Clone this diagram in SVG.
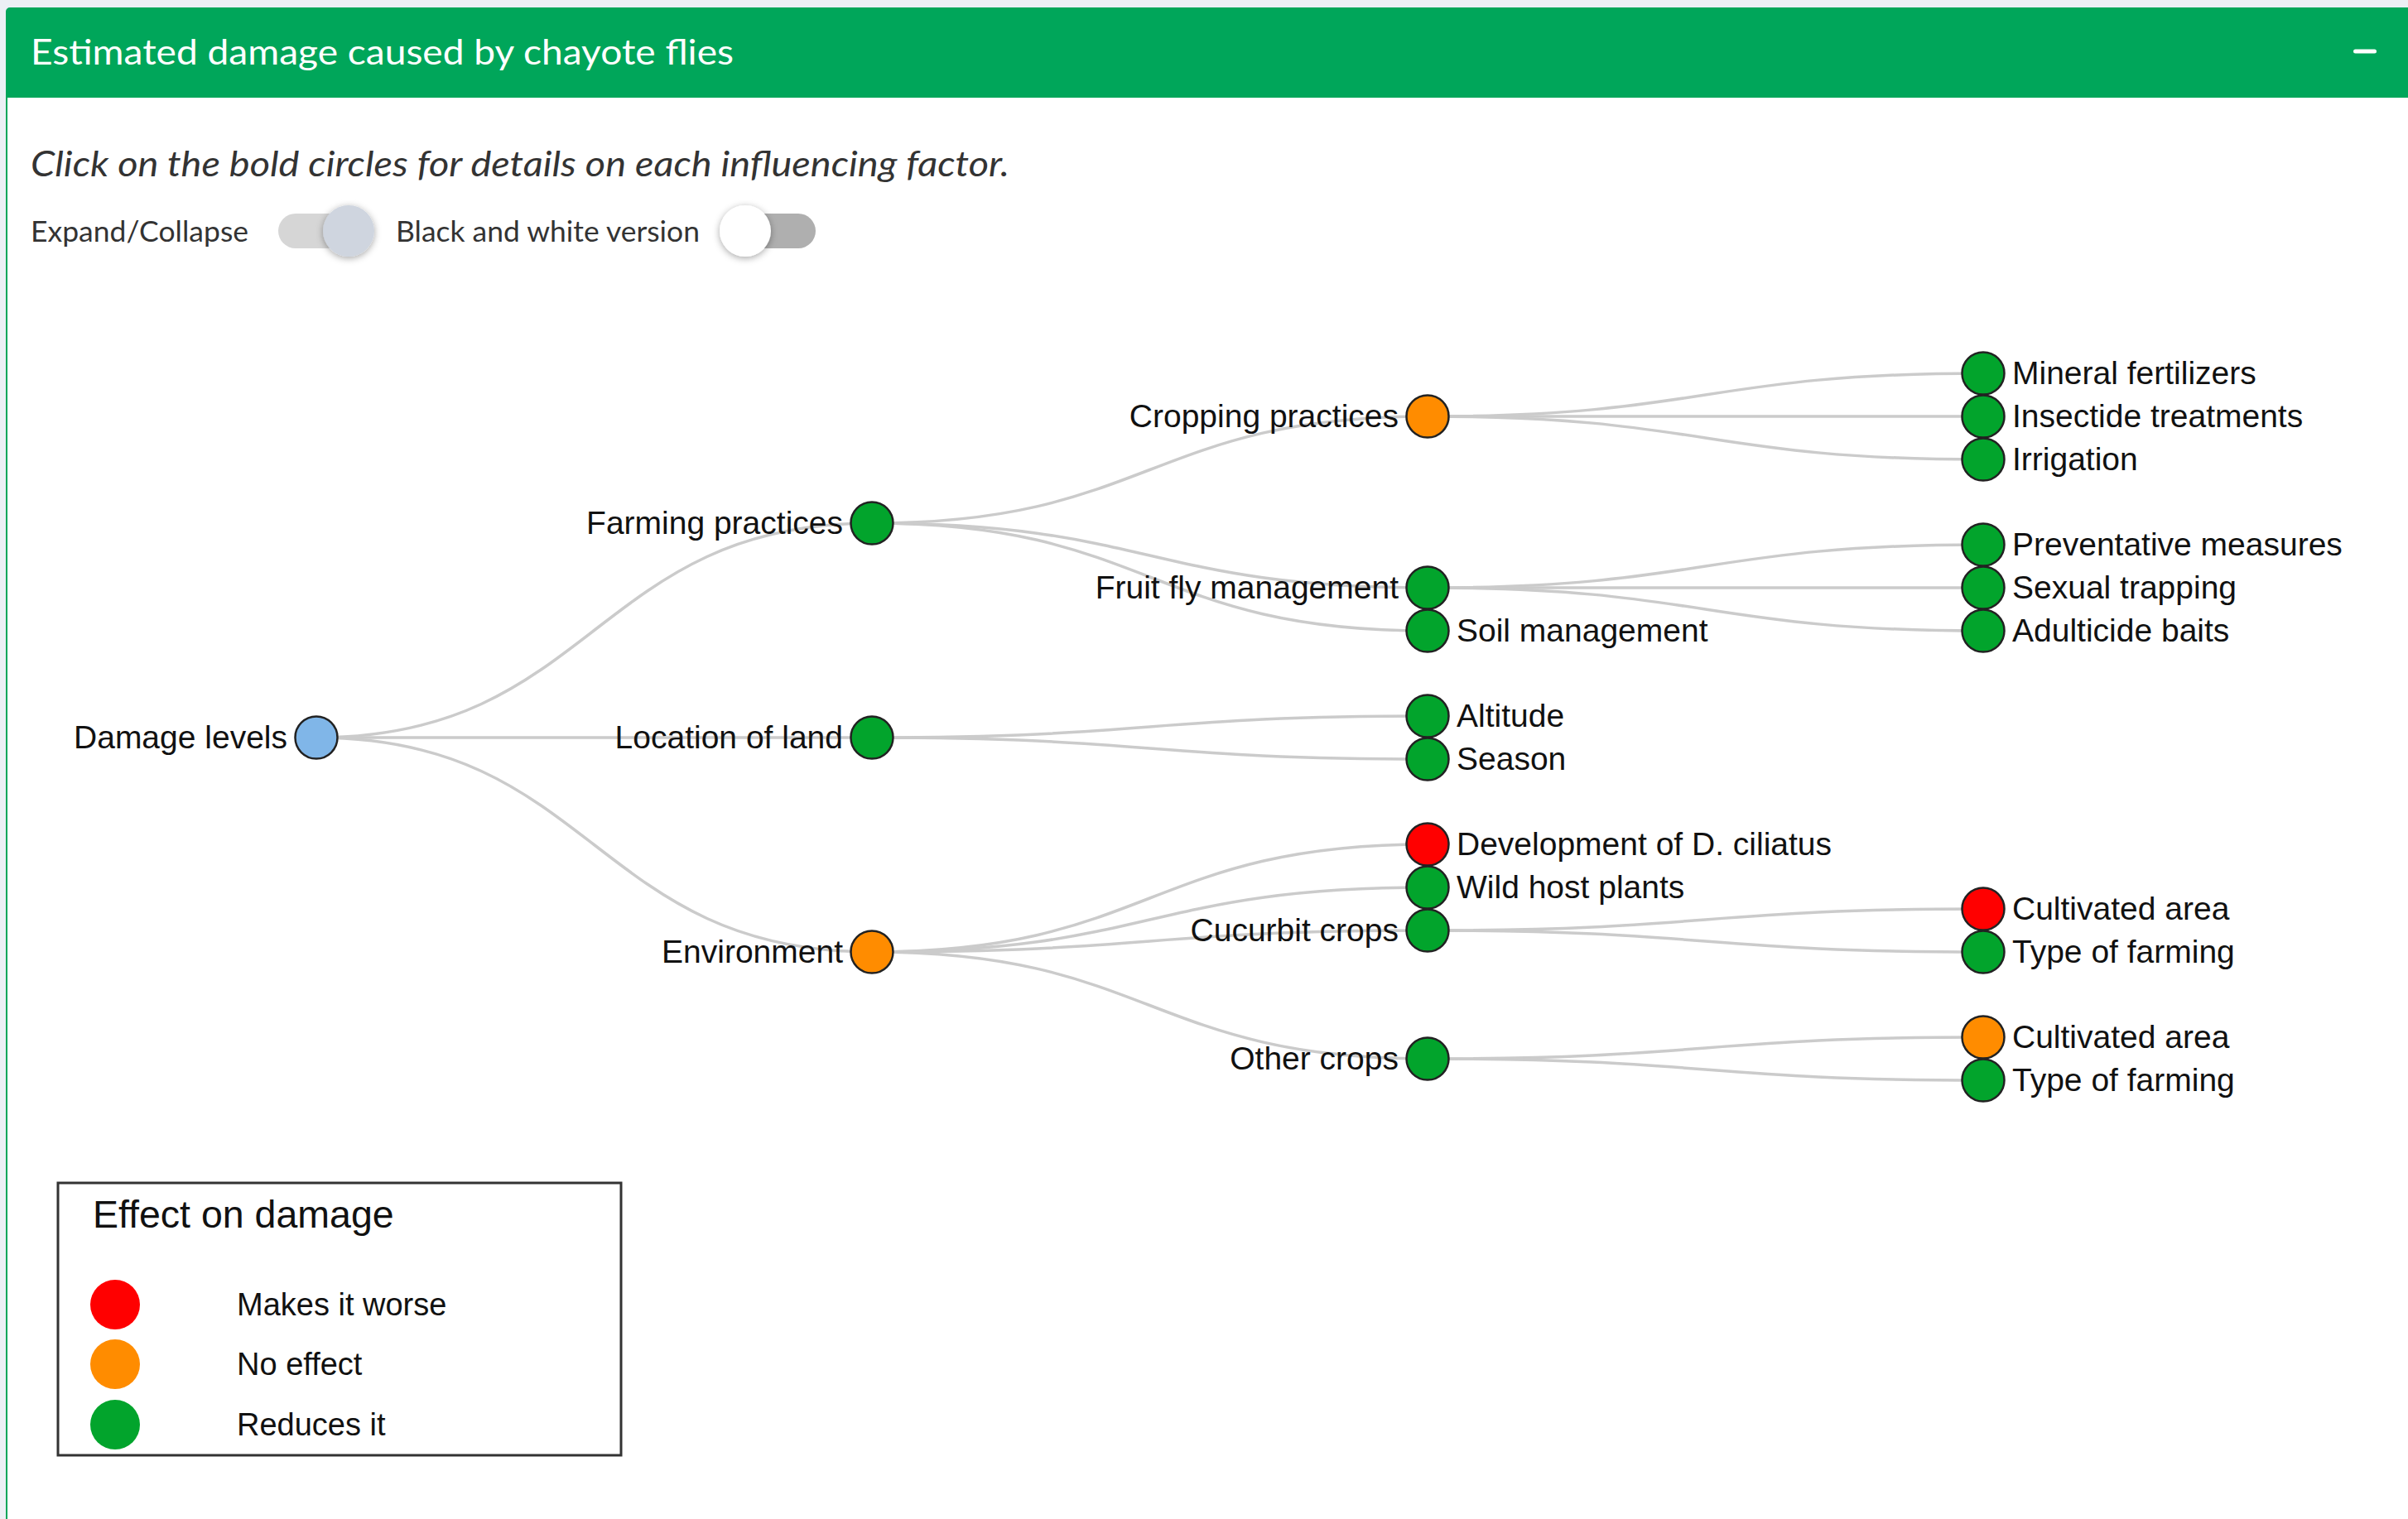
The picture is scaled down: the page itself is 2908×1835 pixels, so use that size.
<svg xmlns="http://www.w3.org/2000/svg" width="2908" height="1835" viewBox="0 0 2908 1835">
<defs>
<style>
.ui{font-family:Lato,"Open Sans","Liberation Sans",sans-serif;fill:#333}
.lbl{font-family:"Liberation Sans",Arial,sans-serif;font-size:39px;fill:#111}
.l{text-anchor:end}
.nd{stroke:#222;stroke-width:2.5}
.g{fill:#02a42c}.o{fill:#ff8c00}.r{fill:#ff0000}.b{fill:#80b6e8}
.link{fill:none;stroke:#cbcbcb;stroke-width:3.5}
.leg{font-family:"Liberation Sans",Arial,sans-serif;fill:#111}
</style>
<filter id="sh" x="-50%" y="-50%" width="200%" height="200%">
<feDropShadow dx="0" dy="2" stdDeviation="4" flood-color="#000" flood-opacity="0.35"/>
</filter>
</defs>
<rect x="0" y="0" width="2908" height="1835" fill="#ecf0f5"/>
<g id="panel">
<rect x="8" y="10" width="2910" height="1840" rx="4" fill="#ffffff" stroke="#00a65a" stroke-width="2"/>
<path d="M8,118 V14 a4,4 0 0 1 4,-4 H2908 V118 Z" fill="#00a65a"/>
<text x="37" y="78" class="ui" style="fill:#fff" font-size="42" textLength="849" lengthAdjust="spacingAndGlyphs">Estimated damage caused by chayote flies</text>
<rect x="2842" y="59.5" width="28" height="5" rx="2.5" fill="#ffffff"/>
<text x="37" y="213" class="ui" font-size="42" font-style="italic" textLength="1182" lengthAdjust="spacingAndGlyphs">Click on the bold circles for details on each influencing factor.</text>
<text x="37" y="292" class="ui" font-size="35" textLength="263" lengthAdjust="spacingAndGlyphs">Expand/Collapse</text>
<rect x="336" y="258" width="110" height="42" rx="21" fill="#d6d6d6"/>
<circle cx="421" cy="279" r="31" fill="#cfd5df" filter="url(#sh)"/>
<text x="478" y="292" class="ui" font-size="35" textLength="367" lengthAdjust="spacingAndGlyphs">Black and white version</text>
<rect x="880" y="258" width="105" height="42" rx="21" fill="#afafaf"/>
<circle cx="900" cy="279" r="31" fill="#ffffff" filter="url(#sh)"/>
</g>
<g id="links">
<path class="link" d="M382,891 C717.5,891 717.5,632 1053,632"/>
<path class="link" d="M382,891 C717.5,891 717.5,891 1053,891"/>
<path class="link" d="M382,891 C717.5,891 717.5,1150 1053,1150"/>
<path class="link" d="M1053,632 C1388.5,632 1388.5,503 1724,503"/>
<path class="link" d="M1053,632 C1388.5,632 1388.5,710 1724,710"/>
<path class="link" d="M1053,632 C1388.5,632 1388.5,762 1724,762"/>
<path class="link" d="M1053,891 C1388.5,891 1388.5,865 1724,865"/>
<path class="link" d="M1053,891 C1388.5,891 1388.5,917 1724,917"/>
<path class="link" d="M1053,1150 C1388.5,1150 1388.5,1020 1724,1020"/>
<path class="link" d="M1053,1150 C1388.5,1150 1388.5,1072 1724,1072"/>
<path class="link" d="M1053,1150 C1388.5,1150 1388.5,1124 1724,1124"/>
<path class="link" d="M1053,1150 C1388.5,1150 1388.5,1279 1724,1279"/>
<path class="link" d="M1724,503 C2059.5,503 2059.5,451 2395,451"/>
<path class="link" d="M1724,503 C2059.5,503 2059.5,503 2395,503"/>
<path class="link" d="M1724,503 C2059.5,503 2059.5,555 2395,555"/>
<path class="link" d="M1724,710 C2059.5,710 2059.5,658 2395,658"/>
<path class="link" d="M1724,710 C2059.5,710 2059.5,710 2395,710"/>
<path class="link" d="M1724,710 C2059.5,710 2059.5,762 2395,762"/>
<path class="link" d="M1724,1124 C2059.5,1124 2059.5,1098 2395,1098"/>
<path class="link" d="M1724,1124 C2059.5,1124 2059.5,1150 2395,1150"/>
<path class="link" d="M1724,1279 C2059.5,1279 2059.5,1253 2395,1253"/>
<path class="link" d="M1724,1279 C2059.5,1279 2059.5,1305 2395,1305"/>
</g>
<g id="n-damage"><circle class="nd b" cx="382" cy="891" r="25.5"/><text class="lbl l" x="347" y="904">Damage levels</text></g>
<g id="n-farming"><circle class="nd g" cx="1053" cy="632" r="25.5"/><text class="lbl l" x="1018" y="645">Farming practices</text></g>
<g id="n-location"><circle class="nd g" cx="1053" cy="891" r="25.5"/><text class="lbl l" x="1018" y="904">Location of land</text></g>
<g id="n-environment"><circle class="nd o" cx="1053" cy="1150" r="25.5"/><text class="lbl l" x="1018" y="1163">Environment</text></g>
<g id="n-cropping"><circle class="nd o" cx="1724" cy="503" r="25.5"/><text class="lbl l" x="1689" y="516">Cropping practices</text></g>
<g id="n-fruitfly"><circle class="nd g" cx="1724" cy="710" r="25.5"/><text class="lbl l" x="1689" y="723">Fruit fly management</text></g>
<g id="n-soil"><circle class="nd g" cx="1724" cy="762" r="25.5"/><text class="lbl" x="1759" y="775">Soil management</text></g>
<g id="n-altitude"><circle class="nd g" cx="1724" cy="865" r="25.5"/><text class="lbl" x="1759" y="878">Altitude</text></g>
<g id="n-season"><circle class="nd g" cx="1724" cy="917" r="25.5"/><text class="lbl" x="1759" y="930">Season</text></g>
<g id="n-development"><circle class="nd r" cx="1724" cy="1020" r="25.5"/><text class="lbl" x="1759" y="1033">Development of D. ciliatus</text></g>
<g id="n-wildhost"><circle class="nd g" cx="1724" cy="1072" r="25.5"/><text class="lbl" x="1759" y="1085">Wild host plants</text></g>
<g id="n-cucurbit"><circle class="nd g" cx="1724" cy="1124" r="25.5"/><text class="lbl l" x="1689" y="1137">Cucurbit crops</text></g>
<g id="n-other"><circle class="nd g" cx="1724" cy="1279" r="25.5"/><text class="lbl l" x="1689" y="1292">Other crops</text></g>
<g id="n-mineral"><circle class="nd g" cx="2395" cy="451" r="25.5"/><text class="lbl" x="2430" y="464">Mineral fertilizers</text></g>
<g id="n-insecticide"><circle class="nd g" cx="2395" cy="503" r="25.5"/><text class="lbl" x="2430" y="516">Insectide treatments</text></g>
<g id="n-irrigation"><circle class="nd g" cx="2395" cy="555" r="25.5"/><text class="lbl" x="2430" y="568">Irrigation</text></g>
<g id="n-preventative"><circle class="nd g" cx="2395" cy="658" r="25.5"/><text class="lbl" x="2430" y="671">Preventative measures</text></g>
<g id="n-sexual"><circle class="nd g" cx="2395" cy="710" r="25.5"/><text class="lbl" x="2430" y="723">Sexual trapping</text></g>
<g id="n-adulticide"><circle class="nd g" cx="2395" cy="762" r="25.5"/><text class="lbl" x="2430" y="775">Adulticide baits</text></g>
<g id="n-cultivated1"><circle class="nd r" cx="2395" cy="1098" r="25.5"/><text class="lbl" x="2430" y="1111">Cultivated area</text></g>
<g id="n-typefarming1"><circle class="nd g" cx="2395" cy="1150" r="25.5"/><text class="lbl" x="2430" y="1163">Type of farming</text></g>
<g id="n-cultivated2"><circle class="nd o" cx="2395" cy="1253" r="25.5"/><text class="lbl" x="2430" y="1266">Cultivated area</text></g>
<g id="n-typefarming2"><circle class="nd g" cx="2395" cy="1305" r="25.5"/><text class="lbl" x="2430" y="1318">Type of farming</text></g>
<g id="legend">
<rect x="70" y="1429" width="680" height="329" fill="#ffffff" stroke="#333" stroke-width="3"/>
<text class="leg" x="112" y="1483" font-size="46.5">Effect on damage</text>
<circle cx="139" cy="1576" r="30" class="r"/>
<text class="leg" x="286" y="1589" font-size="38">Makes it worse</text>
<circle cx="139" cy="1648" r="30" class="o"/>
<text class="leg" x="286" y="1661" font-size="38">No effect</text>
<circle cx="139" cy="1721" r="30" class="g"/>
<text class="leg" x="286" y="1734" font-size="38">Reduces it</text>
</g>
</svg>
